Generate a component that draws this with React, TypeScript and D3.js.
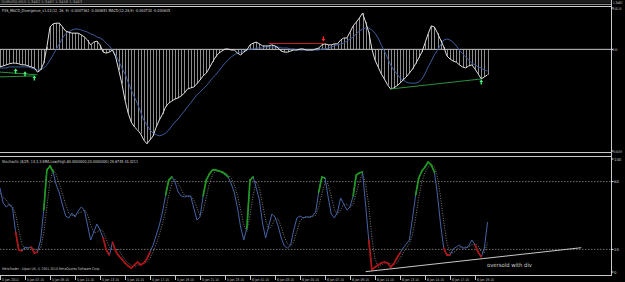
import React from 'react';
import * as d3 from 'd3';

// MACD values in units of 1e-5
const macdMain = [
  -51, -48, -45, -42, -40, -40, -42, -45, -45, -48, -51, -54, -66, -60, -40, 7, 65, 74, 76, 76,
  65, 53, 50, 47, 47, 47, 42, 36, 27, 13, 21, 24, 13, -8, -11, -8, -2, -22, -60, -100,
  -147, -185, -211, -225, -234, -245, -263, -274, -263, -251, -225, -205, -188, -167, -156, -150, -144, -141, -135, -127,
  -115, -112, -109, -100, -89, -77, -69, -54, -37, -22, -11, -5, 1, 1, -2, -2, -11, -16, -8, -2,
  13, 18, 21, 16, 10, 10, 10, 13, 10, 4, -5, -8, -8, -5, -2, -2, 1, 1, -2, -2,
  -2, 1, 4, 13, 16, 13, 13, 16, 16, 27, 33, 33, 50, 68, 79, 91, 105, 79, 50, 1,
  -31, -51, -71, -86, -103, -115, -112, -106, -98, -89, -80, -69, -57, -42, -25, -8, 18, 45, 68, 65,
  47, 27, 7, -19, -28, -34, -37, -45, -51, -54, -48, -45, -57, -71, -86, -80, -74,
];
const macdSignal = [
  -54, -54, -54, -51, -51, -51, -51, -51, -51, -51, -54, -57, -60, -57, -54, -45, -31, -16, 1, 16,
  33, 45, 50, 56, 59, 59, 56, 53, 50, 45, 42, 36, 33, 27, 18, 10, -2, -16, -34, -54,
  -71, -95, -118, -138, -158, -182, -205, -219, -234, -243, -248, -251, -248, -243, -234, -222, -211, -202, -190, -179,
  -167, -156, -144, -132, -124, -115, -106, -95, -83, -74, -63, -51, -40, -31, -22, -16, -11, -8, -5, -2,
  1, 1, 4, 4, 4, 7, 7, 7, 7, 7, 4, 4, 4, 1, 1, -2, -2, -2, -2, -2,
  -2, -2, -2, 1, 1, 4, 7, 10, 13, 16, 18, 24, 30, 36, 45, 53, 59, 62, 62, 56,
  47, 33, 13, -5, -25, -45, -60, -71, -83, -89, -95, -98, -98, -98, -95, -86, -71, -51, -34, -16,
  -2, 13, 27, 30, 27, 21, 10, -2, -13, -22, -31, -40, -45, -51, -54, -60, -63,
];
const stochMain = [
  74.3, 61.1, 57.5, 60.2, 56.6, 35.4, 19.5, 18.6, 22.1, 21.2, 22.1, 16.8, 17.7, 28.3, 54.9, 90.3, 93.8, 88.5, 77.0, 69.9,
  59.3, 49.6, 47.8, 52.2, 48.7, 54.0, 57.5, 54.9, 41.6, 28.3, 35.4, 42.5, 37.2, 30.1, 19.5, 15.0, 26.5, 18.6, 14.2, 11.5,
  8.0, 5.3, 3.5, 6.2, 8.8, 6.2, 8.0, 11.5, 17.7, 23.9, 32.7, 41.6, 53.1, 68.1, 81.4, 84.1, 79.6, 70.8, 67.3, 66.4,
  67.3, 67.3, 56.6, 46.0, 48.7, 67.3, 81.4, 86.7, 90.3, 90.3, 89.4, 88.5, 86.7, 84.1, 77.9, 69.9, 56.6, 39.8, 28.3, 38.9,
  81.4, 84.1, 74.3, 63.7, 43.4, 30.1, 40.7, 51.3, 48.7, 40.7, 30.1, 23.0, 21.2, 23.9, 37.2, 47.8, 49.6, 47.8, 48.7, 48.7,
  49.6, 53.1, 70.8, 84.1, 83.2, 66.4, 51.3, 47.8, 53.1, 65.5, 60.2, 54.9, 57.5, 67.3, 85.8, 87.6, 88.5, 59.3, 28.3, 1.8,
  4.4, 6.2, 8.0, 8.8, 8.0, 4.4, 7.1, 12.4, 16.8, 21.2, 24.8, 28.3, 47.8, 68.1, 83.2, 89.4, 92.9, 97.3, 94.7, 88.5,
  68.1, 41.6, 21.2, 15.0, 15.0, 20.4, 22.1, 23.9, 21.2, 21.2, 23.0, 28.3, 23.9, 17.7, 13.3, 21.2, 44.2,
];
const stochSignal = [
  70, 66, 64, 59, 58, 51, 37, 25, 20, 21, 22, 20, 19, 21, 34, 58, 80, 91, 86, 78,
  69, 60, 52, 50, 50, 52, 53, 55, 51, 42, 35, 35, 38, 36, 29, 22, 20, 20, 20, 15,
  11, 8, 6, 5, 6, 7, 8, 9, 12, 18, 25, 33, 43, 54, 68, 78, 82, 78, 73, 68,
  67, 67, 64, 57, 50, 54, 66, 78, 86, 89, 90, 89, 88, 86, 83, 77, 68, 55, 42, 36,
  50, 68, 80, 74, 60, 46, 38, 41, 47, 47, 40, 31, 25, 23, 27, 36, 45, 48, 49, 48,
  49, 50, 58, 69, 79, 78, 67, 55, 51, 55, 60, 60, 57, 60, 70, 80, 87, 78, 59, 30,
  12, 4, 6, 8, 8, 7, 7, 8, 12, 17, 21, 25, 33, 48, 66, 80, 88, 93, 95, 93,
  84, 66, 44, 26, 17, 17, 19, 22, 22, 22, 22, 24, 25, 23, 18, 17, 26,
];

const timeLabels = [
  '5 Jan 2011', '5 Jan 07:15', '5 Jan 09:15', '5 Jan 11:15', '5 Jan 13:15', '5 Jan 15:15', '5 Jan 17:15',
  '5 Jan 19:15', '5 Jan 21:15', '5 Jan 23:15', '6 Jan 01:15', '6 Jan 03:15', '6 Jan 05:15', '6 Jan 07:15',
  '6 Jan 09:15', '6 Jan 11:15', '6 Jan 13:15', '6 Jan 15:15', '6 Jan 17:15', '6 Jan 19:15',
];
const timeLabelBars = [0, 8, 16, 24, 32, 40, 48, 56, 64, 72, 80, 88, 96, 104, 112, 120, 128, 136, 144, 152];

const macdAxisValues = [0.0012, 0, -0.00295];
const macdAxisTexts = ['0.00119', '0.00', '-0.00295'];
const stochAxisValues = [100, 80, 20, 0];
const stochLevels = [80, 20];

// divergence marks: [bar, value(1e-5)]
const bearLine = [[86, 17], [104, 17]];
const bullLinesLeft = [
  [[0, -66], [12, -74]],
  [[0, -80], [11, -77]],
];
const bullLineRight = [[125, -115], [154, -86]];
const upArrows = [[5, -63], [8, -71], [11, -83], [154, -95]];
const downArrows = [[103.5, 30]];
const stochTrend = [[117, 0.3], [186, 21.5]];

const FONT = '"DejaVu Sans", Arial, sans-serif';

export default function App() {
  const W = 625;
  const H = 282;
  const lastBar = macdMain.length - 1;
  const x = d3.scaleLinear().domain([0, lastBar]).range([0, 487.5]);
  const yM = d3.scaleLinear().domain([-0.00295, 0.0012]).range([151, 8]);
  const yS = d3.scaleLinear().domain([0, 100]).range([272, 159]);
  const axisX = 611;

  const macdLine = d3.line<number>().x((_, i) => x(i)).y((d) => yM(d * 1e-5));
  const stochLine = d3.line<number>().x((_, i) => x(i)).y((d) => yS(d));
  const pairM = (p: number[][]) =>
    d3.line<number[]>().x((d) => x(d[0])).y((d) => yM(d[1] * 1e-5))(p) || '';
  const pairS = (p: number[][]) =>
    d3.line<number[]>().x((d) => x(d[0])).y((d) => yS(d[1]))(p) || '';

  const colorFor = (v: number) => (v > 80 ? '#1f9a1f' : v < 20 ? '#b01414' : null);
  const segs: { c: string; d: string }[] = [];
  for (let i = 1; i < stochMain.length; i++) {
    const c = colorFor(stochMain[i]);
    if (c) {
      segs.push({
        c,
        d: `M${x(i - 1)},${yS(stochMain[i - 1])}L${x(i)},${yS(stochMain[i])}`,
      });
    }
  }

  const upArrow = (cx: number, cy: number) =>
    `M${cx},${cy - 2.5}L${cx + 2},${cy}L${cx + 0.7},${cy}L${cx + 0.7},${cy + 2.5}L${cx - 0.7},${cy + 2.5}L${cx - 0.7},${cy}L${cx - 2},${cy}Z`;
  const downArrow = (cx: number, cy: number) =>
    `M${cx},${cy + 2.5}L${cx + 2},${cy}L${cx + 0.7},${cy}L${cx + 0.7},${cy - 2.5}L${cx - 0.7},${cy - 2.5}L${cx - 0.7},${cy}L${cx - 2},${cy}Z`;

  return (
    <svg
      width={W}
      height={H}
      style={{ position: 'absolute', left: 0, top: 0, background: '#000' }}
      fontFamily={FONT}
    >
      <rect x={0} y={0} width={W} height={H} fill="#000" />
      {/* top strip remnant of price window */}
      <rect x={0} y={0} width={axisX} height={3.5} fill="#1c1c1c" />
      <text x={2} y={3} fontSize={3.6} fill="#9a9a9a" textLength={80} lengthAdjust="spacingAndGlyphs">
        EURUSD,M15 1.3462 1.3467 1.3458 1.3463
      </text>
      <line x1={0} x2={axisX} y1={4.5} y2={4.5} stroke="#8a8a8a" strokeWidth={1} />
      <line x1={0} x2={axisX} y1={6.5} y2={6.5} stroke="#d0d0d0" strokeWidth={1} />

      {/* MACD panel */}
      <text x={2} y={11.5} fontSize={4} fill="#d8d8d8" textLength={168} lengthAdjust="spacingAndGlyphs">
        FXS_MACD_Divergence_v1.01(12, 26, 9) -0.0007362 -0.000651  MACD(12,26,9) -0.000730 -0.000635
      </text>
      <line x1={0} x2={axisX} y1={yM(0)} y2={yM(0)} stroke="#c8c8c8" strokeWidth={1} />
      {macdMain.map((v, i) => (
        <line
          key={'h' + i}
          x1={Math.round(x(i)) + 0.5}
          x2={Math.round(x(i)) + 0.5}
          y1={yM(0)}
          y2={yM(v * 1e-5)}
          stroke="#b0b0b0"
          strokeWidth={0.8}
        />
      ))}
      <path d={macdLine(macdSignal) || ''} fill="none" stroke="#3d5c9c" strokeWidth={1} />
      <path d={macdLine(macdMain) || ''} fill="none" stroke="#e2e2e2" strokeWidth={1} />
      <path d={pairM(bearLine)} fill="none" stroke="#c02020" strokeWidth={1} />
      {bullLinesLeft.map((l, i) => (
        <path key={'bl' + i} d={pairM(l)} fill="none" stroke="#2f8f3f" strokeWidth={1} />
      ))}
      <path d={pairM(bullLineRight)} fill="none" stroke="#2f8f3f" strokeWidth={1} />
      {upArrows.map((a, i) => (
        <path key={'ua' + i} d={upArrow(x(a[0]), yM(a[1] * 1e-5))} fill="#44f07a" />
      ))}
      {downArrows.map((a, i) => (
        <path key={'da' + i} d={downArrow(x(a[0]), yM(a[1] * 1e-5))} fill="#ff3030" />
      ))}
      <line x1={0} x2={axisX} y1={152.5} y2={152.5} stroke="#c8c8c8" strokeWidth={1} />

      {/* Stochastic panel */}
      <line x1={0} x2={axisX} y1={156.5} y2={156.5} stroke="#c8c8c8" strokeWidth={1} />
      <text x={2} y={162.5} fontSize={4} fill="#d8d8d8" textLength={136} lengthAdjust="spacingAndGlyphs">
        Stochastic (8/25, 14,3,3,SMA,Low/High,80.0000000,20.0000000) 29.6745 44.4211
      </text>
      {stochLevels.map((lv) => (
        <line
          key={'lv' + lv}
          x1={0}
          x2={axisX}
          y1={yS(lv)}
          y2={yS(lv)}
          stroke="#8c8c8c"
          strokeWidth={0.8}
          strokeDasharray="1.5,1.5"
        />
      ))}
      <path
        d={stochLine(stochSignal) || ''}
        fill="none"
        stroke="#9a9a9a"
        strokeWidth={0.8}
        strokeDasharray="1,1.5"
      />
      <path d={stochLine(stochMain) || ''} fill="none" stroke="#4563a8" strokeWidth={1} />
      {segs.map((s, i) => (
        <path key={'sg' + i} d={s.d} fill="none" stroke={s.c} strokeWidth={1.7} strokeLinecap="round" />
      ))}
      <path d={pairS(stochTrend)} fill="none" stroke="#c8c8c8" strokeWidth={1} />
      <text x={487} y={267} fontSize={5.6} fill="#d0d0d0" textLength={45} lengthAdjust="spacingAndGlyphs">
        oversold with div
      </text>
      <text x={2} y={270} fontSize={3.6} fill="#c8c8c8" textLength={98} lengthAdjust="spacingAndGlyphs">
        MetaTrader - Alpari UK, © 2001-2010 MetaQuotes Software Corp.
      </text>
      <line x1={0} x2={axisX} y1={275.5} y2={275.5} stroke="#c8c8c8" strokeWidth={1} />

      {/* right axis */}
      <line x1={axisX + 0.5} x2={axisX + 0.5} y1={0} y2={276} stroke="#c8c8c8" strokeWidth={1} />
      <text transform="translate(613,4) scale(0.75,1)" fontSize={3.6} fill="#d0d0d0">1.3462</text>
      {macdAxisValues.map((v, i) => (
        <g key={'ma' + i}>
          <line x1={axisX} x2={axisX + 2.5} y1={yM(v)} y2={yM(v)} stroke="#e0e0e0" strokeWidth={1} />
          <text
            transform={`translate(612.8,${yM(v) + 1.5}) scale(0.6,1)`}
            fontSize={3.4}
            fill="#d0d0d0"
          >
            {macdAxisTexts[i]}
          </text>
        </g>
      ))}
      {stochAxisValues.map((v) => (
        <g key={'sa' + v}>
          <line x1={axisX} x2={axisX + 2.5} y1={yS(v)} y2={yS(v)} stroke="#e0e0e0" strokeWidth={1} />
          <text x={614} y={yS(v) + 1.5} fontSize={3.8} fill="#d0d0d0">
            {String(v)}
          </text>
        </g>
      ))}

      {/* time axis */}
      {timeLabels.map((t, i) => {
        const tx = Math.round(x(timeLabelBars[i])) + 0.5;
        return (
          <g key={'t' + i}>
            <line x1={tx} x2={tx} y1={276} y2={280} stroke="#c8c8c8" strokeWidth={1} />
            <text x={tx + 1.5} y={280.5} fontSize={3.6} fill="#c8c8c8" textLength={17} lengthAdjust="spacingAndGlyphs">
              {t}
            </text>
          </g>
        );
      })}
    </svg>
  );
}
